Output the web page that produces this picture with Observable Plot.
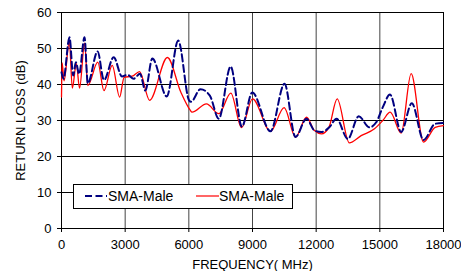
<!DOCTYPE html>
<html><head><meta charset="utf-8">
<script src="https://cdn.jsdelivr.net/npm/d3@7"></script>
<script src="https://cdn.jsdelivr.net/npm/@observablehq/plot@0.6"></script>
<style>
body{margin:0;background:#fff;font-family:"Liberation Sans",Arial,sans-serif;}
#wrap{position:relative;width:461px;height:271px;}
#legend{position:absolute;left:73px;top:184px;width:220px;height:25px;border:1px solid #000;background:#fff;font-size:14px;box-sizing:border-box;}
#legend .it{display:flex;align-items:center;position:absolute;top:3px;}
</style></head>
<body><div id="wrap"></div>
<script>
const seriesNames = ["SMA-Male", "SMA-Male"];
const blueX = [0,94,377,550,676,832,1084,1240,1700,2000,2460,2850,3100,3400,3700,3950,4280,4960,5500,6010,6100,6550,6990,7412,7970,8500,8990,9848,10508,11026,11544,11921,12250,12620,12958,13491,14010,14500,14830,15140,15480,16006,16507,17058,17609,18000];
const blueY = [43.4,41.6,53.1,42.5,46.2,42.9,53.1,40.3,49.2,41.2,47.6,42.2,42.7,41.6,43.0,38.3,47.2,36.7,52.2,35.6,35.2,38.7,36.9,30.5,45.0,28.3,37.8,27.0,40.2,25.4,30.5,27.2,26.8,28.1,30.5,24.9,31.2,28.1,29.5,33.7,37.2,26.8,34.8,24.6,29.1,29.3];
const redX = [0,30,120,370,510,700,850,1090,1240,1710,2000,2390,2740,2950,3330,3680,4150,4990,5620,6050,6150,6830,7412,7978,8482,9000,9848,10490,11026,11544,11921,12250,12600,12990,13560,14120,14749,15140,15488,16006,16476,17058,17609,18000];
const redY = [36.5,46,41,52,39,45.8,39,51.5,39.7,46.2,38.3,45.3,36.5,42,42.3,43.6,35.6,47.5,37.9,33,32.3,34.6,31.9,37.6,28,36,27,33.6,25.4,30.9,27.2,26.3,28.1,36,23.8,25.8,27.7,30,32.3,26.5,43,24,28.1,28.6];
const xTicks = [0,3000,6000,9000,12000,15000,18000];
const yTicks = [0,10,20,30,40,50,60];

const blue = blueX.map((x,i)=>({x, y: blueY[i]}));
const red = redX.map((x,i)=>({x, y: redY[i]}));

const chart = Plot.plot({
  width: 461, height: 271,
  marginLeft: 61, marginRight: 18, marginTop: 12, marginBottom: 43,
  style: {fontFamily: '"Liberation Sans", Arial, sans-serif', fontSize: "13px", color: "#000", background: "#fff"},
  x: {domain: [0,18000]},
  y: {domain: [0,60]},
  marks: [
    Plot.gridX(xTicks, {stroke: "#444", strokeOpacity: 1, strokeWidth: 1}),
    Plot.gridY(yTicks, {stroke: "#000", strokeOpacity: 1, strokeWidth: 1}),
    Plot.frame({stroke: "#000", strokeWidth: 1}),
    Plot.axisX(xTicks, {tickFormat: d => String(d), tickSize: 4, tickPadding: 7, fontSize: 13, label: "FREQUENCY( MHz)", labelAnchor: "center", labelArrow: "none", labelOffset: 40}),
    Plot.axisY(yTicks, {tickSize: 4, tickPadding: 6, fontSize: 13, label: "RETURN LOSS (dB)", labelAnchor: "center", labelArrow: "none", labelOffset: 46}),
    Plot.line(red, {x: "x", y: "y", stroke: "#ff0000", strokeWidth: 1.3, curve: "monotone-x"}),
    Plot.line(blue, {x: "x", y: "y", stroke: "#000080", strokeWidth: 2, strokeDasharray: "7,3.5", curve: "monotone-x"})
  ]
});
const wrap = document.getElementById("wrap");
wrap.appendChild(chart);
const lg = document.createElement("div");
lg.id = "legend";
lg.innerHTML = `<div class="it" style="left:11px"><svg width="23" height="16"><line x1="0" y1="8" x2="22" y2="8" stroke="#000080" stroke-width="2" stroke-dasharray="7,3.5"/></svg><span>${seriesNames[0]}</span></div>
<div class="it" style="left:122px"><svg width="23" height="16"><line x1="0" y1="8" x2="23" y2="8" stroke="#ff0000" stroke-width="1.2"/></svg><span>${seriesNames[1]}</span></div>`;
wrap.appendChild(lg);
</script></body></html>
